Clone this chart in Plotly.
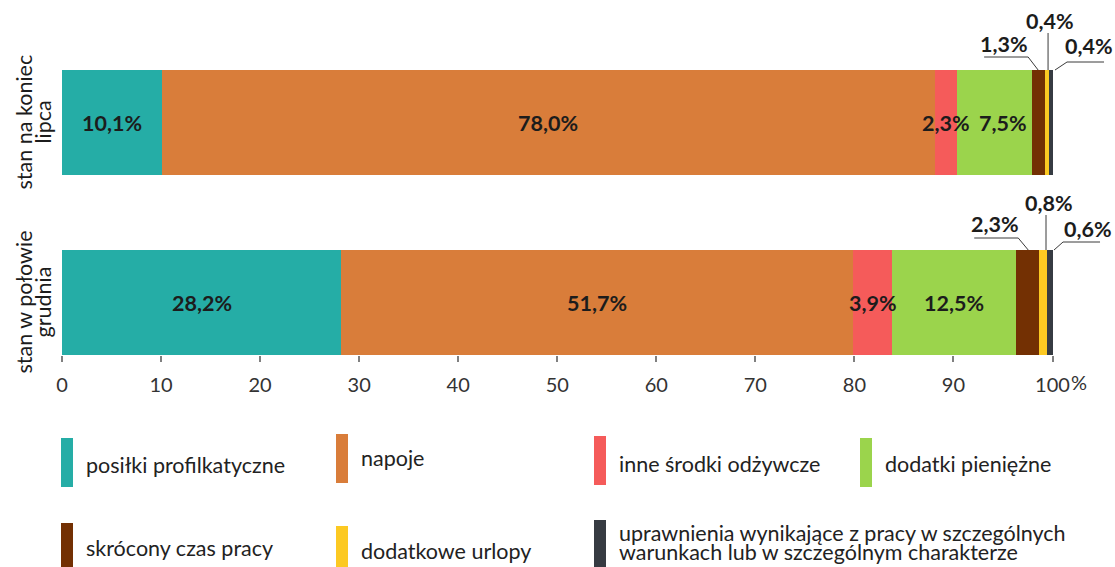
import plotly.graph_objects as go

# ---------------- data ----------------
categories = ["stan na koniec lipca", "stan w połowie grudnia"]
category_lines = [["stan na koniec", "lipca"], ["stan w połowie", "grudnia"]]

series_names = [
    "posiłki profilkatyczne",
    "napoje",
    "inne środki odżywcze",
    "dodatki pieniężne",
    "skrócony czas pracy",
    "dodatkowe urlopy",
    "uprawnienia wynikające z pracy w szczególnych warunkach lub w szczególnym charakterze",
]
legend_lines = [
    ["posiłki profilkatyczne"],
    ["napoje"],
    ["inne środki odżywcze"],
    ["dodatki pieniężne"],
    ["skrócony czas pracy"],
    ["dodatkowe urlopy"],
    ["uprawnienia wynikające z pracy w szczególnych", "warunkach lub w szczególnym charakterze"],
]
posilki = [10.1, 28.2]
napoje = [78.0, 51.7]
inne = [2.3, 3.9]
dodatki = [7.5, 12.5]
skrocony = [1.3, 2.3]
urlopy = [0.4, 0.8]
uprawnienia = [0.4, 0.6]
series_values = [posilki, napoje, inne, dodatki, skrocony, urlopy, uprawnienia]

x_tick_values = [0, 10, 20, 30, 40, 50, 60, 70, 80, 90, 100]
x_tick_labels = ["0", "10", "20", "30", "40", "50", "60", "70", "80", "90", "100"]

# ---------------- style ----------------
colors = ["#25ADA6", "#D97D3A", "#F55B5A", "#9BD44C", "#733003", "#FCC922", "#363B42"]
FONT = "Lato"
TXT = "#1c1c1c"
LBL_SIZE = 21.5
TICK_SIZE = 20
LEG_SIZE = 21.5
CAT_SIZE = 21.5

W, H = 1115, 567
L, R, T, B = 62, 3, 10, 212
PW, PH = W - L - R, H - T - B
PX_PER_UNIT = 9.905
x_max = PW / PX_PER_UNIT
BAR_W = 105 / 180.0
y_lo = -BAR_W / 2
y_hi = 1 + 112.5 / 180.0


def xp(px):
    return (px - L) / PW


def yp(py):
    return (T + PH - py) / PH


n_cat = len(categories)
y_pos = [n_cat - 1 - i for i in range(n_cat)]  # first category on top

fig = go.Figure()
for name, vals, col in zip(series_names, series_values, colors):
    fig.add_trace(go.Bar(
        y=y_pos, x=vals, orientation="h", name=name,
        marker=dict(color=col, line=dict(width=0)),
        width=BAR_W, showlegend=False, hoverinfo="skip",
    ))


def fmt(v):
    return f"{v:.1f}".replace(".", ",") + "%"


annotations = []
shapes = []

inside_shift = {(0, 3): 8}
# callout geometry: (bar index, series index) -> (path points px, text offset px)
callouts = {
    (0, 4): ([(0, 0), (-10, 13), (-54, 13)], (-34, 26)),
    (0, 5): ([(1.5, 0), (1.5, 37)], (3.5, 49)),
    (0, 6): ([(4.5, 0), (16.5, 8), (53.5, 8)], (38.5, 24)),
    (1, 4): ([(1, 0), (-9, 12), (-53, 12)], (-32, 26)),
    (1, 5): ([(3.4, 0), (3.4, 35)], (6.4, 47)),
    (1, 6): ([(4.5, 0), (13.5, 8), (50.5, 8)], (38, 21)),
}

for bi in range(n_cat):
    cum = 0.0
    yc = y_pos[bi]
    ytop = yc + BAR_W / 2
    for si, vals in enumerate(series_values):
        v = vals[bi]
        center = cum + v / 2
        cum += v
        if (bi, si) in callouts:
            pts, (tx, ty) = callouts[(bi, si)]
            path = "M " + " L ".join(f"{px},{py}" for px, py in pts)
            shapes.append(dict(type="path", xref="x", yref="y", xsizemode="pixel", ysizemode="pixel",
                               xanchor=center, yanchor=ytop, path=path,
                               line=dict(color="#3a3a3a", width=1), layer="above"))
            annotations.append(dict(x=center, y=ytop, xref="x", yref="y", text=f"<b>{fmt(v)}</b>",
                                    showarrow=False, xanchor="center", yanchor="middle",
                                    xshift=tx, yshift=ty,
                                    font=dict(family=FONT, size=LBL_SIZE, color=TXT)))
        else:
            annotations.append(dict(x=center, y=yc, xref="x", yref="y", text=f"<b>{fmt(v)}</b>",
                                    showarrow=False, xanchor="center", yanchor="middle",
                                    xshift=inside_shift.get((bi, si), 0),
                                    font=dict(family=FONT, size=LBL_SIZE, color=TXT)))

# category labels (rotated, two lines)
for bi, lines in enumerate(category_lines):
    for li, line in enumerate(lines):
        annotations.append(dict(x=0, y=y_pos[bi], xref="x", yref="y", text=line, textangle=-90,
                                showarrow=False, xanchor="center", yanchor="middle",
                                xshift=-39 + li * 19,
                                font=dict(family=FONT, size=CAT_SIZE, color=TXT)))

# "%" after the last tick label
annotations.append(dict(x=x_tick_values[-1], y=yp(382), xref="x", yref="paper", text="%",
                        showarrow=False, xanchor="left", yanchor="middle", xshift=16,
                        font=dict(family=FONT, size=TICK_SIZE, color="#333333")))

# legend (custom)
legend_layout = [  # rect x, rect top, rect bottom, text y-centers
    (61, 438, 487, [465]),
    (336, 434, 483, [458]),
    (594, 436, 485, [464]),
    (860, 438, 487, [464]),
    (61, 523, 567, [548]),
    (336, 526, 567, [551]),
    (594, 520, 567, [533, 552]),
]
for (rx, rt, rb, tys), lines, col in zip(legend_layout, legend_lines, colors):
    shapes.append(dict(type="rect", xref="paper", yref="paper", x0=xp(rx), x1=xp(rx + 12),
                       y0=yp(rb), y1=yp(rt), fillcolor=col, line=dict(width=0)))
    for ty, line in zip(tys, lines):
        annotations.append(dict(x=xp(rx + 23), y=yp(ty), xref="paper", yref="paper", text=line,
                                showarrow=False, xanchor="left", yanchor="middle",
                                font=dict(family=FONT, size=LEG_SIZE, color="#222222")))

fig.update_layout(
    barmode="stack",
    width=W, height=H,
    margin=dict(l=L, r=R, t=T, b=B, pad=0),
    paper_bgcolor="white", plot_bgcolor="white",
    font=dict(family=FONT, size=TICK_SIZE, color="#333333"),
    xaxis=dict(range=[0, x_max], tickvals=x_tick_values, ticktext=x_tick_labels,
               showgrid=False, zeroline=False, showline=False,
               ticks="outside", ticklen=6, tickwidth=1.5, tickcolor="#808080",
               ticklabelstandoff=6,
               tickfont=dict(family=FONT, size=TICK_SIZE, color="#333333"), fixedrange=True),
    yaxis=dict(range=[y_lo, y_hi], showgrid=False, zeroline=False, showticklabels=False,
               showline=False, ticks="", fixedrange=True),
    annotations=annotations,
    shapes=shapes,
    showlegend=False,
)

fig.write_html("out.html", config={"displayModeBar": False})

with open("out.html", "r", encoding="utf-8") as f:
    html = f.read()
html = html.replace("<head>", "<head><style>html,body{margin:0;padding:0;overflow:hidden;}</style>", 1)
with open("out.html", "w", encoding="utf-8") as f:
    f.write(html)
